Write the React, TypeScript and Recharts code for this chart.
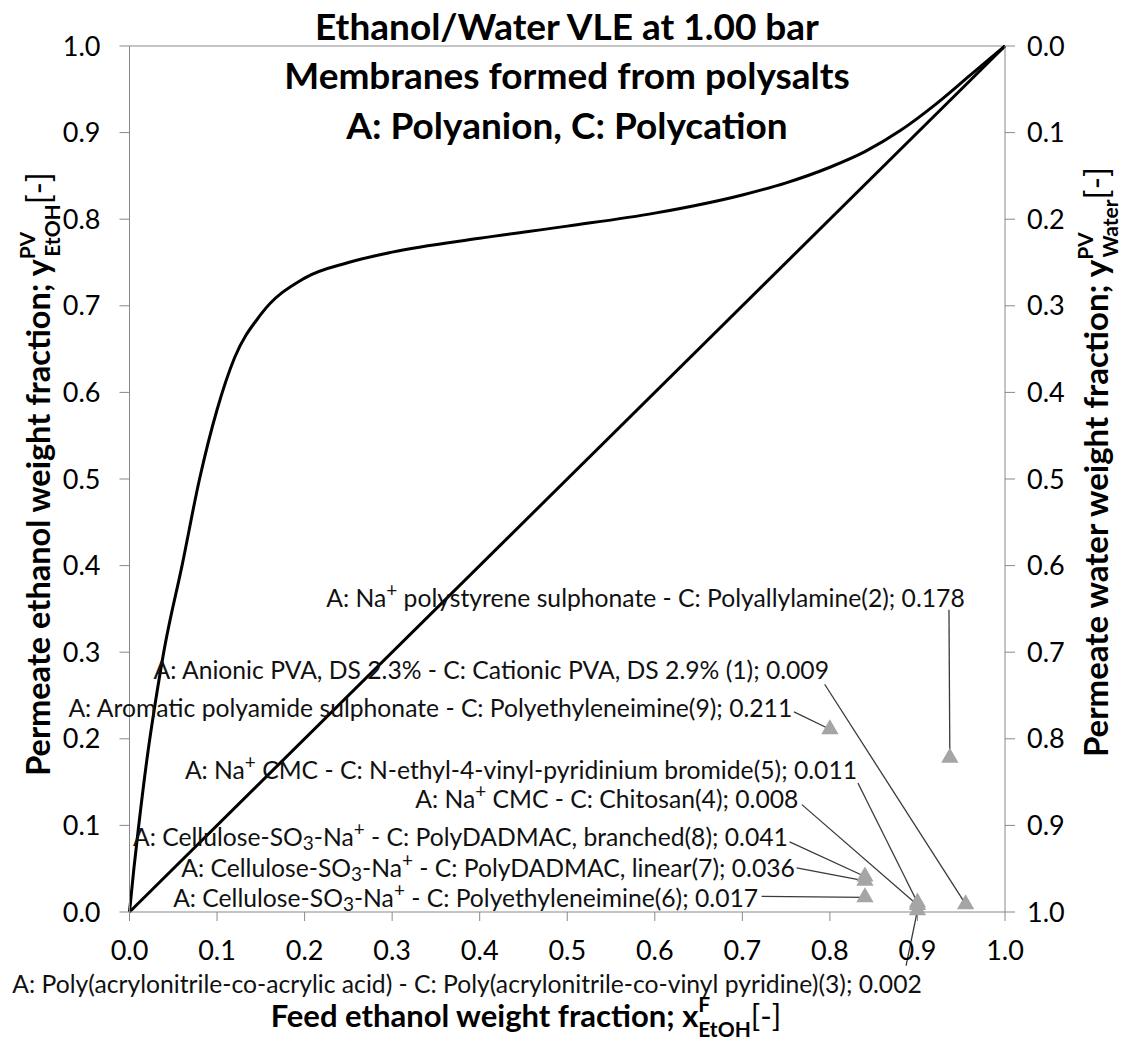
import React from "react";
import {
  ComposedChart,
  Line,
  Scatter,
  XAxis,
  YAxis,
  ZAxis,
  ReferenceLine,
  ReferenceDot,
} from "recharts";

const FONT = "Lato, 'Open Sans', sans-serif";

// ethanol / water VLE at 1.00 bar (weight fractions)
const vleX = [0, 0.005, 0.01, 0.02, 0.03, 0.04, 0.06, 0.08, 0.1, 0.12, 0.15, 0.2, 0.25, 0.3, 0.4, 0.5, 0.6, 0.7, 0.75, 0.8, 0.84, 0.88, 0.92, 0.96, 1];
const vleY = [0, 0.05, 0.095, 0.177, 0.245, 0.305, 0.4, 0.5, 0.58, 0.64, 0.69, 0.732, 0.75, 0.762, 0.778, 0.792, 0.807, 0.828, 0.842, 0.86, 0.878, 0.902, 0.932, 0.966, 1];

// y = x line
const diagX = [0, 1];
const diagY = [0, 1];

// membranes (A: polyanion, C: polycation)
const membraneNo = [1, 2, 3, 4, 5, 6, 7, 8, 9];
const membraneNames = [
  "A: Anionic PVA, DS 2.3% - C: Cationic PVA, DS 2.9% ",
  "A: Na^{+} polystyrene sulphonate - C: Polyallylamine",
  "A: Poly(acrylonitrile-co-acrylic acid) - C: Poly(acrylonitrile-co-vinyl pyridine)",
  "A: Na^{+} CMC - C: Chitosan",
  "A: Na^{+} CMC - C: N-ethyl-4-vinyl-pyridinium bromide",
  "A: Cellulose-SO_{3}-Na^{+} - C: Polyethyleneimine",
  "A: Cellulose-SO_{3}-Na^{+} - C: PolyDADMAC, linear",
  "A: Cellulose-SO_{3}-Na^{+} - C: PolyDADMAC, branched",
  "A: Aromatic polyamide sulphonate - C: Polyethyleneimine",
];
const feedEtOH = [0.955, 0.937, 0.9, 0.9, 0.9, 0.84, 0.84, 0.84, 0.8];
const permeateEtOH = [0.009, 0.178, 0.002, 0.008, 0.011, 0.017, 0.036, 0.041, 0.211];

// where each label sits (right end, middle) and where its leader starts, in axis units
const labelEndX = [0.799, 0.954, 0.905, 0.764, 0.831, 0.718, 0.76, 0.752, 0.757];
const labelMidY = [0.281, 0.364, -0.082, 0.132, 0.165, 0.017, 0.052, 0.088, 0.237];
const leaderX = [0.794, 0.936, 0.887, 0.768, 0.832, 0.722, 0.762, 0.754, 0.759];
const leaderY = [0.263, 0.349, -0.062, 0.124, 0.149, 0.018, 0.051, 0.081, 0.231];

const ticks = [0, 0.1, 0.2, 0.3, 0.4, 0.5, 0.6, 0.7, 0.8, 0.9, 1];

const vleData = vleX.map((x, i) => ({ x, y: vleY[i] }));
const diagData = diagX.map((x, i) => ({ x, y: diagY[i] }));
const membraneData = membraneNo.map((n, i) => ({ n, x: feedEtOH[i], y: permeateEtOH[i] }));

const AXIS = "#898989";
const ANNO_SIZE = 24.7;

function parseRich(s: string) {
  const out: { t: string; k: string }[] = [];
  const re = /([\^_])\{([^}]*)\}/g;
  let last = 0;
  let m: RegExpExecArray | null;
  while ((m = re.exec(s))) {
    if (m.index > last) out.push({ t: s.slice(last, m.index), k: "n" });
    out.push({ t: m[2], k: m[1] === "^" ? "sup" : "sub" });
    last = re.lastIndex;
  }
  if (last < s.length) out.push({ t: s.slice(last), k: "n" });
  return out;
}

function AnnoText({ x, y, text }: any) {
  let shift = 0;
  const parts = parseRich(text).map((p, j) => {
    const target = p.k === "sup" ? -8 : p.k === "sub" ? 6 : 0;
    const dy = target - shift;
    shift = target;
    return (
      <tspan key={j} dy={dy} fontSize={p.k === "n" ? ANNO_SIZE : 19}>
        {p.t}
      </tspan>
    );
  });
  return (
    <text
      x={x}
      y={y}
      textAnchor="end"
      dominantBaseline="central"
      fontFamily={FONT}
      fontSize={ANNO_SIZE}
      fill="#111"
      style={{ whiteSpace: "pre" }}
    >
      {parts}
    </text>
  );
}

const fmt = (v: number) => v.toFixed(1);
const tickStyle = { fill: "#000", fontSize: 27, fontFamily: FONT };

export default function App() {
  return (
    <div style={{ position: "absolute", left: 0, top: 0, width: 1125, height: 1040, background: "#fff" }}>
      <ComposedChart
        width={1125}
        height={1040}
        margin={{ top: 46, right: 50, bottom: 78, left: 59.5 }}
      >
        <XAxis
          dataKey="x"
          type="number"
          domain={[0, 1]}
          ticks={ticks}
          tickFormatter={fmt}
          tick={tickStyle}
          tickSize={9}
          tickMargin={20}
          height={50}
          stroke={AXIS}
          interval={0}
        />
        <YAxis
          yAxisId="left"
          dataKey="y"
          type="number"
          domain={[0, 1]}
          ticks={ticks}
          tickFormatter={fmt}
          tick={tickStyle}
          tickSize={10}
          tickMargin={19}
          width={70}
          stroke={AXIS}
          interval={0}
        />
        <YAxis
          yAxisId="right"
          orientation="right"
          dataKey="y"
          type="number"
          domain={[0, 1]}
          reversed
          ticks={ticks}
          tickFormatter={fmt}
          tick={tickStyle}
          tickSize={10}
          tickMargin={12}
          width={70}
          stroke={AXIS}
          interval={0}
        />
        <ZAxis range={[130, 130]} />
        <ReferenceLine yAxisId="left" y={1} stroke={AXIS} />

        {/* water axis runs opposite to the ethanol one: 1 - y */}
        <Line
          yAxisId="right"
          data={diagData}
          dataKey="y"
          stroke="none"
          dot={false}
          activeDot={false}
          legendType="none"
          isAnimationActive={false}
        />

        <Line
          yAxisId="left"
          data={vleData}
          dataKey="y"
          type="monotone"
          stroke="#000"
          strokeWidth={3}
          dot={false}
          isAnimationActive={false}
        />
        <Line
          yAxisId="left"
          data={diagData}
          dataKey="y"
          type="linear"
          stroke="#000"
          strokeWidth={3}
          dot={false}
          isAnimationActive={false}
        />

        {membraneNo.map((n, i) => (
          <ReferenceLine
            key={"l" + n}
            yAxisId="left"
            ifOverflow="visible"
            segment={[
              { x: leaderX[i], y: leaderY[i] },
              { x: feedEtOH[i], y: permeateEtOH[i] },
            ]}
            stroke="#3a3a3a"
            strokeWidth={1.3}
          />
        ))}

        <Scatter
          yAxisId="left"
          data={membraneData}
          shape="triangle"
          fill="#a5a5a5"
          isAnimationActive={false}
        />

        {membraneNo.map((n, i) => (
          <ReferenceDot
            key={"t" + n}
            yAxisId="left"
            x={labelEndX[i]}
            y={labelMidY[i]}
            r={0}
            ifOverflow="visible"
            fill="none"
            stroke="none"
            label={(p: any) => (
              <AnnoText
                x={p.viewBox.x}
                y={p.viewBox.y}
                text={`${membraneNames[i]}(${n}); ${permeateEtOH[i].toFixed(3)}`}
              />
            )}
          />
        ))}
      </ComposedChart>

      <svg
        width={1125}
        height={1040}
        style={{ position: "absolute", left: 0, top: 0, pointerEvents: "none" }}
        fontFamily={FONT}
      >
        <g fontWeight={700} fontSize={37} textAnchor="middle" fill="#000">
          <text x={567} y={40}>Ethanol/Water VLE at 1.00 bar</text>
          <text x={567} y={89}>Membranes formed from polysalts</text>
          <text x={567} y={139}>A: Polyanion, C: Polycation</text>
        </g>

        <text x={526} y={1027} textAnchor="middle" fontWeight={700} fontSize={31} fill="#000">
          Feed ethanol weight fraction; x
          <tspan fontSize={21} dy={-15}>F</tspan>
          <tspan fontSize={21} dx={-12} dy={25}>EtOH</tspan>
          <tspan fontWeight={400} dy={-10}>[-]</tspan>
        </text>

        <text
          transform="translate(50,474) rotate(-90)"
          textAnchor="middle"
          fontWeight={700}
          fontSize={32.5}
          fill="#000"
        >
          Permeate ethanol weight fraction; y
          <tspan fontSize={21} dy={-15}>PV</tspan>
          <tspan fontSize={21} dx={-25} dy={25}>EtOH</tspan>
          <tspan fontWeight={400} dy={-10}>[-]</tspan>
        </text>

        <text
          transform="translate(1108,462) rotate(-90)"
          textAnchor="middle"
          fontWeight={700}
          fontSize={33}
          fill="#000"
        >
          Permeate water weight fraction; y
          <tspan fontSize={21} dy={-15}>PV</tspan>
          <tspan fontSize={21} dx={-25} dy={25}>Water</tspan>
          <tspan fontWeight={400} dy={-10}>[-]</tspan>
        </text>
      </svg>
    </div>
  );
}
